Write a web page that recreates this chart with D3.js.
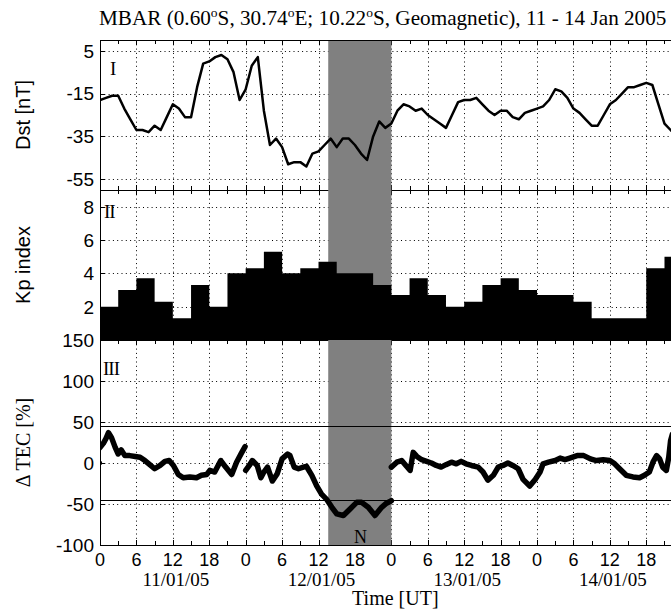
<!DOCTYPE html>
<html>
<head>
<meta charset="utf-8">
<script src="https://cdn.jsdelivr.net/npm/d3@7"></script>
<style>
  body { margin: 0; background: #fff; }
  svg { display: block; }
</style>
</head>
<body>
<svg id="chart" width="671" height="611"></svg>
<script>
// ---- Data (hours counted from 11 Jan 2005 00 UT) ----
// Hourly Dst index [nT], hours 0..95
const dstValues = [
  -18, -17, -16, -16, -22, -27, -32, -32, -33, -30, -32, -26, -20, -22, -26, -26, -12, -1, 0, 2, 3, 1, -5, -18,
  -13, -2, 2, -23, -39, -36, -40, -48, -47, -47, -49, -43, -42, -39, -36, -40, -36, -36, -39, -43, -46, -35, -28, -31,
  -29, -23, -20, -21, -23, -22, -25, -27, -29, -31, -25, -19, -18, -18, -17, -20, -23, -25, -23, -23, -26, -27, -24, -23,
  -22, -21, -18, -13, -14, -17, -22, -24, -27, -30, -30, -25, -20, -18, -15, -12, -12, -11, -10, -11, -20, -29, -32, -35
];

// Three-hourly Kp index, 32 intervals
const kpValues = [
  2.0, 3.0, 3.7, 2.3, 1.3, 3.3, 2.0, 4.0,
  4.3, 5.3, 4.0, 4.3, 4.7, 4.0, 4.0, 3.3,
  2.7, 3.7, 2.7, 2.0, 2.3, 3.3, 3.7, 3.0,
  2.7, 2.7, 2.3, 1.3, 1.3, 1.3, 4.3, 5.0
];

// Delta TEC [%]; NaN separates the daily segments
const tecHours = [
  0, 0.55, 1.0, 1.4, 1.9, 2.5, 3.0, 3.5, 4.1, 4.9, 5.8, 6.6, 7.4, 8.2, 9.0, 9.9, 10.7, 11.4, 12.1, 12.9, 13.7,
  14.8, 15.9, 16.7, 17.6, 18.1, 18.9, 19.9, 20.7, 21.7, 22.5, 23.3, 23.9,
  NaN,
  24.0, 24.6, 25.1, 25.9, 26.5, 27.0, 27.6, 28.4, 29.2, 30.0, 30.9, 31.3, 32.0, 32.7, 33.5, 34.0, 34.9, 35.7,
  36.5, 37.3, 38.2, 39.0, 40.1, 41.2, 42.3, 43.1, 44.2, 45.3, 46.4, 47.2, 48.0,
  NaN,
  48.0, 48.9, 49.7, 50.5, 51.1, 51.6, 52.2, 53.0, 53.8, 54.6, 55.4, 56.2, 57.0, 57.9, 58.7, 59.5, 60.3, 61.2,
  62.3, 63.1, 63.9, 64.8, 65.6, 66.4, 67.2, 68.0, 68.9, 69.7, 70.8, 71.7, 72.5, 73.0, 73.9, 75.0, 75.8, 76.6,
  77.4, 78.6, 79.7, 80.8, 81.8, 82.9, 84.0, 84.8, 85.6, 86.7, 87.8, 88.9, 89.7, 90.5, 91.1, 91.7, 92.2, 92.7,
  93.3, 93.7, 94.0, 94.3
];
const tecValues = [
  19, 24, 30, 37, 31, 19, 11, 16, 9, 9, 8, 7, 3, -2, -7, -3, 2, 3, -3, -14, -18,
  -17, -18, -15, -14, -9, -11, 3, -5, -14, 1, 12, 20,
  NaN,
  -9, -3, 3, -3, -18, -11, -5, -22, -13, 5, 11, 9, -5, -7, -5, -4, -15, -28,
  -38, -44, -54, -62, -64, -56, -48, -48, -54, -64, -54, -49, -46,
  NaN,
  -5, 1, 3, -4, -9, 13, 8, 4, 2, 0, -3, -5, -2, 1, -1, 2, -1, -3,
  -5, -11, -21, -15, -5, -3, 0, -3, -7, -20, -28, -20, -11, -1, 1, 3, 6, 4,
  6, 9, 9, 5, 3, 4, 3, -1, -7, -15, -17, -18, -15, -11, 1, 9, 5, -5,
  -9, 7, 27, 35
];
const tecMarker = [{ h: 0, v: 0 }];
const tecThresholds = [45, -45];

// Night-time interval (hours) and its label
const nightBand = [37.6, 48];
const nightLabel = { text: "N", h: 42.9 };

// Ticks and labels
const dstTicks = [5, -15, -35, -55];
const kpTicks = [2, 4, 6, 8];
const tecTicks = [150, 100, 50, 0, -50, -100];
const tecGrid = [100, 50, 0, -50];
const hourTicks = d3.range(0, 97, 6);
const hourLabels = ["0", "6", "12", "18", "0", "6", "12", "18", "0", "6", "12", "18", "0", "6", "12", "18"];
const dayLabels = ["11/01/05", "12/01/05", "13/01/05", "14/01/05"];
const dayLabelHours = [12, 36, 60, 84];

// ---- Layout ----
const svg = d3.select("#chart");
const sans = "'Liberation Sans', Arial, sans-serif";
const serif = "'Liberation Serif', 'Times New Roman', serif";

const x = d3.scaleLinear().domain([0, 96]).range([100, 682.7]);
const panels = [
  { key: "dst", y: d3.scaleLinear().domain([-60, 10]).range([190, 40]), ticks: dstTicks, grid: dstTicks,
    label: "Dst [nT]", labelFont: sans, roman: "I", romanX: 110, romanY: 75 },
  { key: "kp", y: d3.scaleLinear().domain([0, 9]).range([340, 190]), ticks: kpTicks, grid: kpTicks,
    label: "Kp index", labelFont: sans, roman: "II", romanX: 104, romanY: 218 },
  { key: "tec", y: d3.scaleLinear().domain([-100, 150]).range([545, 340]), ticks: tecTicks, grid: tecGrid,
    label: "\u0394 TEC [%]", labelFont: serif, roman: "III", romanX: 103, romanY: 375 }
];

const [xl, xr] = x.range();

// Grid lines (dotted) and tick marks
const gridG = svg.append("g").attr("stroke", "#000").attr("stroke-width", 1).attr("fill", "none");
panels.forEach(p => {
  const [yb, yt] = p.y.range();
  p.grid.forEach(v => {
    const yy = Math.round(p.y(v)) + 0.5;
    gridG.append("line").attr("x1", xl).attr("x2", xr).attr("y1", yy).attr("y2", yy)
      .attr("stroke-dasharray", "1,3.3");
  });
  hourTicks.filter(h => h > 0 && h < 96).forEach(h => {
    const xx = Math.round(x(h)) + 0.5;
    gridG.append("line").attr("x1", xx).attr("x2", xx).attr("y1", yt).attr("y2", yb)
      .attr("stroke-dasharray", "1,3.3");
  });
  // x tick marks every 3 h, inward from top and bottom
  d3.range(3, 96, 3).forEach(h => {
    const xx = Math.round(x(h)) + 0.5;
    const len = h % 6 === 0 ? 5 : 4;
    gridG.append("line").attr("x1", xx).attr("x2", xx).attr("y1", yt).attr("y2", yt + len);
    gridG.append("line").attr("x1", xx).attr("x2", xx).attr("y1", yb).attr("y2", yb - len);
  });
  // y tick marks inward from left axis
  p.ticks.forEach(v => {
    const yy = Math.round(p.y(v)) + 0.5;
    gridG.append("line").attr("x1", xl).attr("x2", xl + 5).attr("y1", yy).attr("y2", yy);
  });
  // panel box
  gridG.append("rect").attr("x", xl + 0.5).attr("y", yt + 0.5)
    .attr("width", xr - xl).attr("height", yb - yt);
});

// Night-time band
svg.append("rect")
  .attr("x", x(nightBand[0])).attr("width", x(nightBand[1]) - x(nightBand[0]))
  .attr("y", 41).attr("height", 545 - 41)
  .attr("fill", "#808080");

// Clip for data
const defs = svg.append("defs");
panels.forEach(p => {
  const [yb, yt] = p.y.range();
  defs.append("clipPath").attr("id", "clip-" + p.key)
    .append("rect").attr("x", xl).attr("y", yt - 4).attr("width", xr - xl).attr("height", yb - yt + 8);
});

// Panel I: Dst
const pDst = panels[0];
svg.append("path")
  .datum(dstValues)
  .attr("clip-path", "url(#clip-dst)")
  .attr("fill", "none").attr("stroke", "#000").attr("stroke-width", 2.5)
  .attr("stroke-linejoin", "round")
  .attr("d", d3.line().x((d, i) => x(i)).y(d => pDst.y(d)));

// Panel II: Kp step bars
const pKp = panels[1];
const kpSteps = kpValues.map((v, i) => ({ h: i * 3, v }));
kpSteps.push({ h: 96, v: kpValues[kpValues.length - 1] });
svg.append("path")
  .datum(kpSteps)
  .attr("clip-path", "url(#clip-kp)")
  .attr("fill", "#000")
  .attr("d", d3.area().curve(d3.curveStepAfter)
    .x(d => x(d.h)).y0(pKp.y(0)).y1(d => pKp.y(d.v)));

// Panel III: Delta TEC
const pTec = panels[2];
const tecPts = tecHours.map((h, i) => ({ h, v: tecValues[i] }));
const tecG = svg.append("g").attr("clip-path", "url(#clip-tec)");
tecThresholds.forEach(v => {
  const yy = Math.round(pTec.y(v)) + 0.5;
  tecG.append("line").attr("x1", xl).attr("x2", xr).attr("y1", yy).attr("y2", yy)
    .attr("stroke", "#000").attr("stroke-width", 1.2);
});
tecG.append("path")
  .datum(tecPts)
  .attr("fill", "none").attr("stroke", "#000").attr("stroke-width", 5.5)
  .attr("stroke-linejoin", "round").attr("stroke-linecap", "round")
  .attr("d", d3.line().defined(d => !isNaN(d.h) && !isNaN(d.v)).x(d => x(d.h)).y(d => pTec.y(d.v)));
tecG.selectAll("circle.marker").data(tecMarker).join("circle")
  .attr("class", "marker")
  .attr("cx", d => x(d.h)).attr("cy", d => pTec.y(d.v)).attr("r", 2.2).attr("fill", "#000");

// Night label
svg.append("text")
  .attr("x", x(nightLabel.h)).attr("y", 543)
  .attr("text-anchor", "middle")
  .attr("font-family", serif).attr("font-size", 18)
  .text(nightLabel.text);

// Y tick labels, axis titles, panel numerals
panels.forEach(p => {
  svg.append("g").selectAll("text").data(p.ticks).join("text")
    .attr("x", 94).attr("y", d => p.y(d))
    .attr("dy", "0.36em")
    .attr("text-anchor", "end")
    .attr("font-family", sans).attr("font-size", 19)
    .text(d => d);
  const [yb, yt] = p.y.range();
  svg.append("text")
    .attr("transform", `translate(30,${(yb + yt) / 2}) rotate(-90)`)
    .attr("text-anchor", "middle")
    .attr("font-family", p.labelFont).attr("font-size", 20)
    .text(p.label);
  svg.append("text")
    .attr("x", p.romanX).attr("y", p.romanY)
    .attr("font-family", serif).attr("font-size", 19)
    .attr("letter-spacing", -1)
    .text(p.roman);
});

// X tick labels
svg.append("g").selectAll("text").data(hourTicks.slice(0, hourLabels.length)).join("text")
  .attr("x", d => x(d)).attr("y", 566)
  .attr("text-anchor", "middle")
  .attr("font-family", sans).attr("font-size", 18)
  .text((d, i) => hourLabels[i]);

svg.append("g").selectAll("text").data(dayLabels).join("text")
  .attr("x", (d, i) => x(dayLabelHours[i]) + 3).attr("y", 586)
  .attr("text-anchor", "middle")
  .attr("font-family", serif).attr("font-size", 19)
  .text(d => d);

svg.append("text")
  .attr("x", (xl + xr) / 2 + 4).attr("y", 605)
  .attr("text-anchor", "middle")
  .attr("font-family", serif).attr("font-size", 20)
  .text("Time [UT]");

// Title with degree superscripts
const title = svg.append("text")
  .attr("x", 99).attr("y", 25)
  .attr("font-family", serif).attr("font-size", 21.2);
const titleParts = [
  ["MBAR (0.60", false], ["o", true], ["S, 30.74", false], ["o", true],
  ["E; 10.22", false], ["o", true], ["S, Geomagnetic), 11 - 14 Jan 2005", false]
];
let raised = false;
titleParts.forEach(([t, sup]) => {
  let dy = 0;
  if (sup && !raised) { dy = -8; raised = true; }
  else if (!sup && raised) { dy = 8; raised = false; }
  title.append("tspan")
    .attr("font-size", sup ? 13.5 : 21.2)
    .attr("dy", dy)
    .text(t);
});
</script>
</body>
</html>
